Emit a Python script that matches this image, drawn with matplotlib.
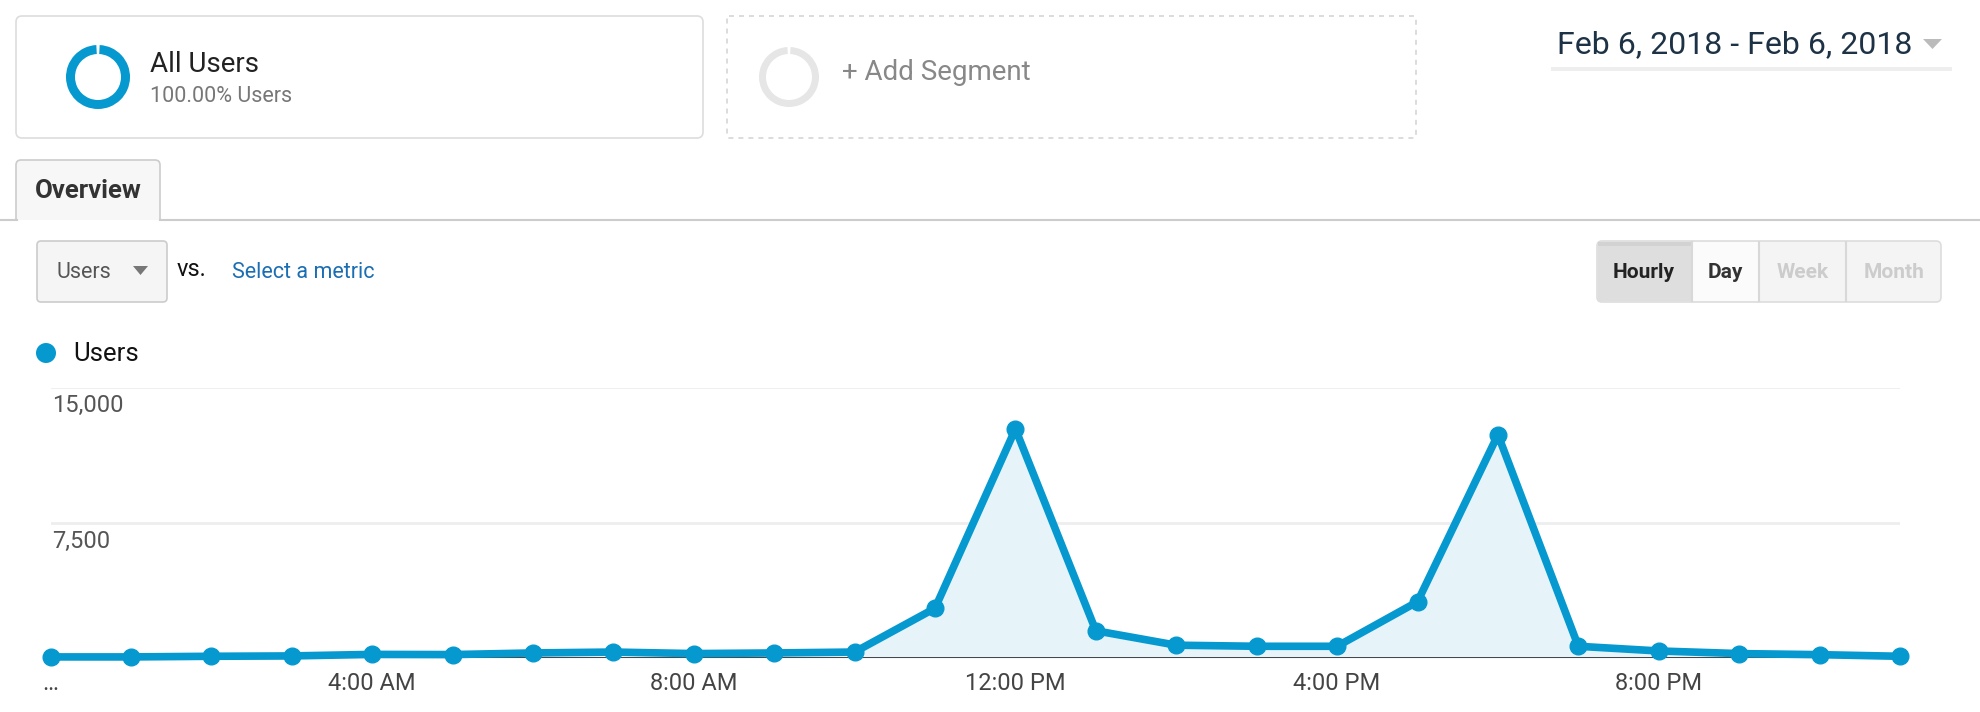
import matplotlib
matplotlib.use('Agg')
import matplotlib.pyplot as plt
from matplotlib.patches import FancyBboxPatch, Rectangle, Wedge, Polygon, Circle
import numpy as np

plt.rcParams['font.family'] = ['Roboto', 'DejaVu Sans']

# hourly users, Feb 6 2018
hours = list(range(24))
users = [60, 60, 95, 115, 200, 190, 280, 330, 245, 280, 330, 2760,
         12700, 1510, 710, 650, 650, 3120, 12380, 650, 390, 245, 185, 95]
xtick_pos = [0, 4, 8, 12, 16, 20]
xtick_labels = ['\u2026', '4:00 AM', '8:00 AM', '12:00 PM', '4:00 PM', '8:00 PM']
ytick_pos = [7500, 15000]
ytick_labels = ['7,500', '15,000']

W, H = 1980, 712
BLUE = '#0599d0'

fig = plt.figure(figsize=(W / 100, H / 100), dpi=100)
fig.patch.set_facecolor('white')

# overlay in pixel coordinates for the page furniture
ui = fig.add_axes([0, 0, 1, 1])
ui.set_xlim(0, W)
ui.set_ylim(H, 0)
ui.axis('off')
ui.set_zorder(0)


def box(x0, y0, x1, y1, fc, ec, r=6, ls='-', lw=1.2, z=1):
    p = FancyBboxPatch((x0, y0), x1 - x0, y1 - y0,
                       boxstyle=f'round,pad=0,rounding_size={r}',
                       fc=fc, ec=ec, lw=lw, ls=ls, zorder=z)
    ui.add_patch(p)
    return p


# segment cards
box(16, 16, 703, 138, 'white', '#dddddd')
ui.add_patch(Wedge((98, 77), 32, -87, 267, width=9, fc=BLUE, ec='none'))
ui.text(150, 64, 'All Users', fontsize=20, color='#222222', va='center')
ui.text(150, 96, '100.00% Users', fontsize=15.5, color='#777777', va='center')

box(727, 16, 1416, 138, 'white', '#d6d6d6', r=2, ls=(0, (3, 3)))
ui.add_patch(Wedge((789, 77), 30, -87, 267, width=7, fc='#e6e6e6', ec='none'))
ui.text(842, 73, '+ Add Segment', fontsize=20, color='#888888', va='center')

# date range
ui.text(1557, 45, 'Feb 6, 2018 - Feb 6, 2018', fontsize=23, color='#1e3246', va='center')
ui.add_patch(Polygon([[1923, 39], [1942, 39], [1932.5, 49]], closed=True, fc='#bbbbbb', ec='none'))
ui.add_patch(Rectangle((1551, 67), 401, 4, fc='#eeeeee', ec='none'))

# overview tab
box(16, 160, 160, 232, '#f7f7f7', '#cccccc', r=5, z=2)
ui.add_patch(Rectangle((10, 220), 160, 14, fc='white', ec='none', zorder=3))
ui.plot([0, 16.5], [219.5, 219.5], color='#cccccc', lw=1.5, zorder=4)
ui.plot([159.5, W], [219.5, 219.5], color='#cccccc', lw=1.5, zorder=4)
ui.text(88, 191, 'Overview', fontsize=18.5, fontweight='bold', color='#333333',
        ha='center', va='center', zorder=5)

# metric selector
box(37, 241, 167, 302, '#f5f5f5', '#cccccc', r=4)
ui.text(57, 272, 'Users', fontsize=15.5, color='#555555', va='center')
ui.add_patch(Polygon([[133, 266], [148, 266], [140.5, 275]], closed=True, fc='#777777', ec='none'))
ui.text(177, 270, 'vs.', fontsize=17, color='#111111', va='center')
ui.text(232, 272, 'Select a metric', fontsize=15.5, color='#1a6eb3', va='center')

# hourly / day / week / month buttons
box(1597, 241, 1941, 302, '#f4f4f4', '#dddddd', r=5)
ui.add_patch(Rectangle((1598, 242), 94, 59, fc='#dedede', ec='none', zorder=2))
ui.add_patch(Rectangle((1598, 242), 94, 4, fc='#d2d2d2', ec='none', zorder=2))
ui.add_patch(Rectangle((1692, 242), 67, 59, fc='#fbfbfb', ec='none', zorder=2))
for xd in (1692, 1759, 1846):
    ui.plot([xd, xd], [242, 301], color='#d8d8d8', lw=1.5, zorder=3)
btns = [('Hourly', 1644, '#222222'), ('Day', 1725, '#333333'),
        ('Week', 1803, '#cccccc'), ('Month', 1894, '#cccccc')]
for lab, xc, col in btns:
    ui.text(xc, 272, lab, fontsize=15, fontweight='bold', color=col,
            ha='center', va='center', zorder=4)

# legend
ui.add_patch(Circle((46, 353), 10, fc=BLUE, ec='none'))
ui.text(73, 354, 'Users', fontsize=18.5, color='#111111', va='center')

# the chart itself
x0, x1 = 50.5, 1900
y_base, y_top = 658, 387.5
ax = fig.add_axes([x0 / W, 1 - y_base / H, (x1 - x0) / W, (y_base - y_top) / H])
ax.set_zorder(2)
ax.patch.set_alpha(0)
ax.set_xlim(0, 23)
ax.set_ylim(0, 15000)
for s in ax.spines.values():
    s.set_visible(False)

for yv in ytick_pos:
    ax.axhline(yv, color='#eeeeee', lw=2, zorder=1)
ax.axhline(0, color='#333333', lw=2, zorder=2)

ax.fill_between(hours, users, 0, color='#e6f4fa', zorder=1.5, lw=0)
ax.plot(hours, users, color=BLUE, lw=5.5, marker='o', markersize=12,
        solid_joinstyle='round', clip_on=False, zorder=3)

ax.set_yticks([])
ax.set_xticks(xtick_pos)
ax.set_xticklabels(xtick_labels, fontsize=17, color='#444444')
ax.tick_params(axis='x', length=0, pad=10)

for yv, lab in zip(ytick_pos, ytick_labels):
    ax.annotate(lab, xy=(0, yv), xytext=(1, -5), textcoords='offset points',
                fontsize=17, color='#555555', ha='left', va='top')

fig.savefig('out.png', dpi=100, facecolor='white')
